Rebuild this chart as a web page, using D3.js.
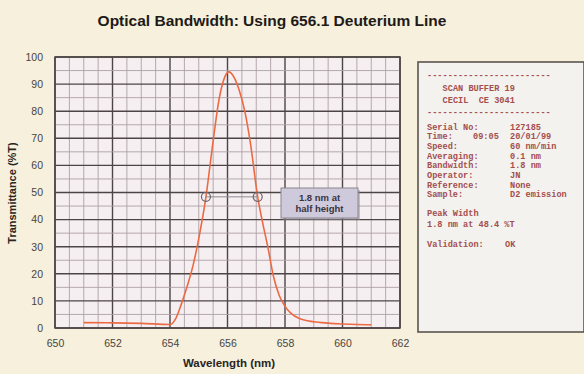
<!DOCTYPE html>
<html>
<head>
<meta charset="utf-8">
<script src="https://cdn.jsdelivr.net/npm/d3@7"></script>
<style>
  html, body { margin: 0; padding: 0; background: #f6f0dc; }
  svg { display: block; }
</style>
</head>
<body>
<svg id="chart" width="584" height="374"></svg>
<script>
// Scan of the deuterium emission line through the monochromator
const wavelength = [651.0, 652.0, 653.0, 654.0, 654.2, 654.4, 654.6, 654.8, 655.0, 655.25, 655.5, 655.7, 655.9, 656.05,
                    656.2, 656.4, 656.6, 656.8, 657.05, 657.2, 657.4, 657.6, 657.8, 658.0, 658.2, 658.5, 659.0, 659.5, 660.0, 660.5, 661.0];
const transmittance = [2.0, 1.9, 1.7, 1.3, 3.5, 9, 15.5, 23, 33, 48.4, 69, 84, 92.5, 94.5,
                       93, 88, 80, 68, 48.4, 40, 30, 19, 12, 8, 5.5, 3.5, 2.3, 1.8, 1.5, 1.3, 1.2];

// Half-height markers (nm, %T)
const halfWidthPoints = [655.25, 657.05];
const halfHeight = 48.4;
const calloutLines = ["1.8 nm at", "half height"];

// Axis ticks
const xTicks = [650, 652, 654, 656, 658, 660, 662];
const yTicks = [0, 10, 20, 30, 40, 50, 60, 70, 80, 90, 100];

// Instrument printout
const headerLines = ["SCAN BUFFER 19", "CECIL  CE 3041"];
const infoLabels = ["Serial No:", "Time:", "Speed:", "Averaging:", "Bandwidth:", "Operator:", "Reference:", "Sample:"];
const infoValues = ["127185", "20/01/99", "60 nm/min", "0.1 nm", "1.8 nm", "JN", "None", "D2 emission"];
const timeOfDay = "09:05";
const peakLines = ["Peak Width", "1.8 nm at 48.4 %T"];
const validation = ["Validation:", "OK"];

const svg = d3.select("#chart");
const x = d3.scaleLinear().domain([650, 662]).range([55, 400]);
const y = d3.scaleLinear().domain([0, 100]).range([328, 57]);

// Title
svg.append("text")
  .attr("x", 272).attr("y", 26)
  .attr("text-anchor", "middle")
  .attr("font-family", "Liberation Sans, Arial, sans-serif")
  .attr("font-weight", "bold").attr("font-size", 15.5)
  .attr("fill", "#1e1a18")
  .text("Optical Bandwidth: Using 656.1 Deuterium Line");

// Plot background
svg.append("rect")
  .attr("x", x(650)).attr("y", y(100))
  .attr("width", x(662) - x(650)).attr("height", y(0) - y(100))
  .attr("fill", "#f6eff1");

const grid = svg.append("g");
const minorX = d3.range(650, 662.01, 0.5);
const minorY = d3.range(0, 100.01, 5);
grid.selectAll("line.vx").data(minorX).join("line")
  .attr("x1", d => x(d)).attr("x2", d => x(d))
  .attr("y1", y(100)).attr("y2", y(0))
  .attr("stroke", d => Math.abs(d % 2) < 1e-6 ? "#4d4446" : "#ada0a6")
  .attr("stroke-width", d => Math.abs(d % 2) < 1e-6 ? 1.4 : 0.9);
grid.selectAll("line.hy").data(minorY).join("line")
  .attr("y1", d => y(d)).attr("y2", d => y(d))
  .attr("x1", x(650)).attr("x2", x(662))
  .attr("stroke", d => d % 10 === 0 ? "#4d4446" : "#ada0a6")
  .attr("stroke-width", d => d % 10 === 0 ? 1.4 : 0.9);

// Plot frame
svg.append("rect")
  .attr("x", x(650)).attr("y", y(100))
  .attr("width", x(662) - x(650)).attr("height", y(0) - y(100))
  .attr("fill", "none").attr("stroke", "#4d4446").attr("stroke-width", 1.5);

// Axes (labels only)
const xAxis = svg.append("g").attr("transform", `translate(0,${y(0) + 9})`)
  .call(d3.axisBottom(x).tickValues(xTicks).tickSize(0).tickFormat(d3.format("d")));
const yAxis = svg.append("g").attr("transform", `translate(${x(650) - 9},0)`)
  .call(d3.axisLeft(y).tickValues(yTicks).tickSize(0).tickFormat(d3.format("d")));
[xAxis, yAxis].forEach(a => {
  a.select(".domain").remove();
  a.selectAll("text")
    .attr("font-family", "Liberation Sans, Arial, sans-serif")
    .attr("font-size", 10.5).attr("fill", "#4a4442");
});

// Axis titles
svg.append("text")
  .attr("x", 229).attr("y", 367)
  .attr("text-anchor", "middle")
  .attr("font-family", "Liberation Sans, Arial, sans-serif")
  .attr("font-weight", "bold").attr("font-size", 11.5).attr("fill", "#2a2422")
  .text("Wavelength (nm)");
svg.append("text")
  .attr("transform", "translate(16,193) rotate(-90)")
  .attr("text-anchor", "middle")
  .attr("font-family", "Liberation Sans, Arial, sans-serif")
  .attr("font-weight", "bold").attr("font-size", 11).attr("fill", "#2a2422")
  .text("Transmittance (%T)");

// Emission curve
const pts = wavelength.map((w, i) => [w, transmittance[i]]);
svg.append("path")
  .datum(pts)
  .attr("fill", "none")
  .attr("stroke", "#ec6a43").attr("stroke-width", 1.6)
  .attr("d", d3.line().x(d => x(d[0])).y(d => y(d[1])).curve(d3.curveMonotoneX));

// Half-height markers
svg.append("line")
  .attr("x1", x(halfWidthPoints[0])).attr("x2", x(halfWidthPoints[1]))
  .attr("y1", y(halfHeight)).attr("y2", y(halfHeight))
  .attr("stroke", "#8e8a90").attr("stroke-width", 1);
svg.selectAll("circle.hh").data(halfWidthPoints).join("circle")
  .attr("cx", d => x(d)).attr("cy", y(halfHeight)).attr("r", 4.5)
  .attr("fill", "none").attr("stroke", "#6e6468").attr("stroke-width", 1.2);

// Callout box
const bx = 281, by = 188, bw = 77, bh = 30;
svg.append("rect").attr("x", bx + 2).attr("y", by + 2).attr("width", bw).attr("height", bh)
  .attr("fill", "#8d8894").attr("opacity", 0.5);
svg.append("rect").attr("x", bx).attr("y", by).attr("width", bw).attr("height", bh)
  .attr("fill", "#cfcadb").attr("stroke", "#8a8590").attr("stroke-width", 1);
svg.selectAll("text.callout").data(calloutLines).join("text")
  .attr("x", bx + bw / 2).attr("y", (d, i) => by + 12.5 + i * 11)
  .attr("text-anchor", "middle")
  .attr("font-family", "Liberation Sans, Arial, sans-serif")
  .attr("font-weight", "bold").attr("font-size", 9.5).attr("fill", "#3a3440")
  .text(d => d);

// Printout panel
const panel = svg.append("g");
panel.append("rect").attr("x", 418).attr("y", 62).attr("width", 166).attr("height", 270)
  .attr("fill", "#f3f2ee").attr("stroke", "#5a5450").attr("stroke-width", 1.6);

const mono = t => t.attr("font-family", "Liberation Mono, Courier New, monospace")
  .attr("font-size", 8.6).attr("font-weight", "bold").attr("fill", "#a44e4e")
  .attr("xml:space", "preserve");
const colL = 427, colV = 510, colT = 473;
const dashes = "------------------------";
mono(panel.append("text").attr("x", colL).attr("y", 78)).text(dashes);
mono(panel.selectAll("text.hdr").data(headerLines).join("text")
  .attr("x", colL + 15.6).attr("y", (d, i) => 91 + i * 12)).text(d => d);
mono(panel.append("text").attr("x", colL).attr("y", 115)).text(dashes);

const rowY = i => 129.5 + i * 9.7;
mono(panel.selectAll("text.lab").data(infoLabels).join("text")
  .attr("x", colL).attr("y", (d, i) => rowY(i))).text(d => d);
mono(panel.selectAll("text.val").data(infoValues).join("text")
  .attr("x", colV).attr("y", (d, i) => rowY(i))).text(d => d);
mono(panel.append("text").attr("x", colT).attr("y", rowY(1))).text(timeOfDay);

mono(panel.selectAll("text.peak").data(peakLines).join("text")
  .attr("x", colL).attr("y", (d, i) => 216 + i * 10.5)).text(d => d);
mono(panel.append("text").attr("x", colL).attr("y", 247)).text(validation[0]);
mono(panel.append("text").attr("x", colV - 5).attr("y", 247)).text(validation[1]);
</script>
</body>
</html>
